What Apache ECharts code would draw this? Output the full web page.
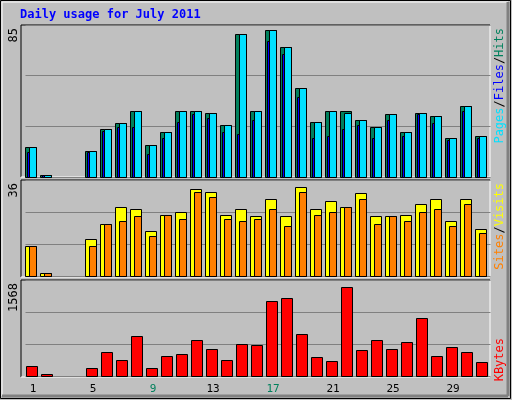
<!DOCTYPE html>
<html><head><meta charset="utf-8">
<script src="https://cdn.jsdelivr.net/npm/echarts@6/dist/echarts.min.js"></script>
<style>html,body{margin:0;padding:0;background:#C0C0C0}#c{width:512px;height:400px}</style>
</head><body><div id="c"></div>
<script>
const days = ['1','2','3','4','5','6','7','8','9','10','11','12','13','14','15','16','17','18','19','20','21','22','23','24','25','26','27','28','29','30','31'];
const weekend = [2,3,9,10,16,17,23,24,30,31];
const hits  = [16.6,1,0,0,14.4,27,30,37,18,25,37,37,36,29,80,37,82,72.5,50,31,37,37,32,28,35,25,36,34,22,39.5,23];
const files = [14,0.5,0,0,14,26,28,28,13,22,31,35,33,25,24,32,76,69,45,22,23,27,29,22,32,23,35,30,20.5,37,22];
const pages = [16.6,1,0,0,14.4,27,30,37,18,25,37,37,36,29,80,37,82,72.5,50,31,37,36,32,28,35,25,36,34,22,39.5,23];
const visits = [11.2,1,0,0,14,19.6,26,25,16.7,23,24,32.6,31.5,23,25,22.5,29,22.5,33.3,25,28,26,31,22.5,22.5,23,27,29,20.7,29,17.8];
const sites  = [11.2,1,0,0,11.2,19.6,20.7,22.5,14.9,23,21.4,31.5,29.7,21.4,20.7,21.4,25,18.8,31.5,23,24,26,29,19.6,22.5,20.7,24,25,18.8,27,16];
const kbytes = [164,37,0,0,132,385,259,655,132,322,354,591,449,259,528,512,1225,1272,686,306,243,1447,417,591,449,560,940,322,480,385,227];
const maxLabels = ['85','36','1568'];
const maxVals = [85,36,1568];

function barItem(data, x0, x1, color){
  return {
    type:'custom', renderItem:function(params, api){
      const v = api.value(1);
      if(!v) return null;
      const p = api.coord([api.value(0), v]);
      const b = api.coord([api.value(0), 0]);
      const h = Math.max(b[1]-p[1], 2);
      return {type:'rect', shape:{x:Math.round(p[0]+x0)+0.5, y:Math.round(b[1]-h)+0.5, width:Math.round(x1-x0), height:Math.round(h)},
        style:{fill:color, stroke:'#000', lineWidth:1}};
    },
    data: data.map((v,i)=>[i,v]), xAxisIndex:0, yAxisIndex:0, clip:false
  };
}
const grids = [{left:25.5,top:25,width:465,height:152},{left:25.5,top:180,width:465,height:96},{left:25.5,top:280,width:465,height:96}];
const xAxes = grids.map((g,i)=>({gridIndex:i,type:'category',data:days,boundaryGap:true,
  axisLine:{show:false},axisTick:{show:false},splitLine:{show:false},
  axisLabel:{show:i===2,margin:8,fontFamily:'DejaVu Sans Mono',fontSize:11,
   formatter:v=>weekend.includes(+v)?'{w|'+v+'}':'{n|'+v+'}',
   rich:{w:{color:'#00805C',fontFamily:'DejaVu Sans Mono',fontSize:11},n:{color:'#000',fontFamily:'DejaVu Sans Mono',fontSize:11}}}}));
const yAxes = grids.map((g,i)=>({gridIndex:i,type:'value',min:0,max:maxVals[i],interval:maxVals[i]/3,
  axisLine:{show:false},axisTick:{show:false},axisLabel:{show:false},
  splitLine:{show:true,lineStyle:{color:'#808080',width:1}}}));
function S(s,i){s.xAxisIndex=i;s.yAxisIndex=i;return s;}
const series = [
  S(barItem(hits,-7.7,3.7,'#00805C'),0),
  S(barItem(pages,-3.7,3.7,'#00E0FF'),0),
  S(barItem(files,-5.7,-3.7,'#0000FF'),0),
  S(barItem(visits,-7.7,3.7,'#FFFF00'),1),
  S(barItem(sites,-3.7,3.7,'#FF8000'),1),
  S(barItem(kbytes,-7,3.7,'#FF0000'),2)
];
function panel(y,h){return [
  {type:'line',shape:{x1:21,y1:y,x2:490,y2:y},style:{stroke:'#000',lineWidth:1}},
  {type:'line',shape:{x1:21,y1:y,x2:21,y2:y+h},style:{stroke:'#000',lineWidth:1}},
  {type:'line',shape:{x1:21,y1:y+h,x2:490,y2:y+h},style:{stroke:'#fff',lineWidth:1}},
  {type:'line',shape:{x1:490,y1:y,x2:490,y2:y+h},style:{stroke:'#fff',lineWidth:1}}];}
const mono = 'DejaVu Sans Mono';
function vtext(x,y,rich,str){return {type:'text',x:x,y:y,rotation:Math.PI/2,style:{text:str,rich:rich,font:'12px '+mono,textAlign:'right',textVerticalAlign:'middle'},z:10};}
const graphic = [
  {type:'rect',shape:{x:0.5,y:0.5,width:510,height:398},style:{fill:'none',stroke:'#000',lineWidth:1}},
  {type:'line',shape:{x1:2,y1:2,x2:508,y2:2},style:{stroke:'#fff'}},
  {type:'line',shape:{x1:2,y1:2,x2:2,y2:396},style:{stroke:'#fff'}},
  {type:'line',shape:{x1:2,y1:396,x2:508,y2:396},style:{stroke:'#808080',lineWidth:3}},
  {type:'line',shape:{x1:508,y1:2,x2:508,y2:396},style:{stroke:'#808080',lineWidth:3}},
  {type:'text',x:20,y:9,style:{text:'Daily usage for July 2011',font:'bold 12px '+mono,fill:'#0000FF'}},
  ...panel(25,152),...panel(180,97),...panel(280,97),
  {type:'text',x:14,y:28,rotation:Math.PI/2,style:{text:maxLabels[0],font:'12px '+mono,fill:'#000',textAlign:'right',textVerticalAlign:'middle'}},
  {type:'text',x:14,y:183,rotation:Math.PI/2,style:{text:maxLabels[1],font:'12px '+mono,fill:'#000',textAlign:'right',textVerticalAlign:'middle'}},
  {type:'text',x:14,y:283,rotation:Math.PI/2,style:{text:maxLabels[2],font:'12px '+mono,fill:'#000',textAlign:'right',textVerticalAlign:'middle'}},
  vtext(500,28,{p:{fill:'#00E0FF',font:'12px '+mono},f:{fill:'#0000FF',font:'12px '+mono},h:{fill:'#00805C',font:'12px '+mono},s:{fill:'#000',font:'12px '+mono}},'{p|Pages}{s|/}{f|Files}{s|/}{h|Hits}'),
  vtext(500,183,{a:{fill:'#FF8000',font:'12px '+mono},b:{fill:'#FFFF00',font:'12px '+mono},s:{fill:'#000',font:'12px '+mono}},'{a|Sites}{s|/}{b|Visits}'),
  vtext(500,338,{k:{fill:'#FF0000',font:'12px '+mono}},'{k|KBytes}')
];
const chart = echarts.init(document.getElementById('c'));
chart.setOption({backgroundColor:'#C0C0C0',animation:false,grid:grids,xAxis:xAxes,yAxis:yAxes,series:series,graphic:graphic});
</script></body></html>
